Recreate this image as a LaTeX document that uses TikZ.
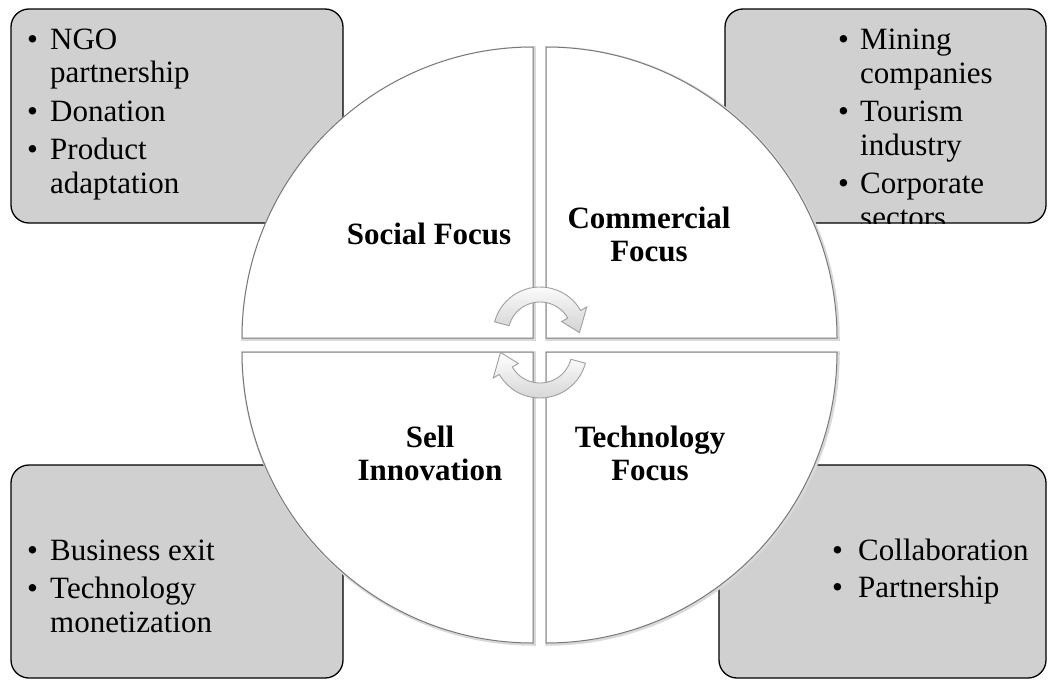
\documentclass[tikz,border=0pt]{standalone}
\usepackage{fontspec}
\setmainfont{Liberation Serif}
\begin{document}
\begin{tikzpicture}[x=1pt,y=1pt,
  infobox/.style={fill=boxgray, draw=black, line width=1.3pt, rounded corners=18pt},
  bul/.style={anchor=base west, inner sep=0pt, font=\fontsize{31}{34}\selectfont},
  item/.style={anchor=base west, inner sep=0pt, font=\fontsize{31}{34}\selectfont},
  lab/.style={anchor=base, inner sep=0pt, font=\fontsize{31}{34}\selectfont\bfseries},
  quad/.style={fill=white, draw=quadline, line width=1pt},
  qshadow/.style={draw=gray!30, line width=3.5pt},
  cyc/.style={top color=white, bottom color=gray!35, draw=gray!75, line width=0.9pt}
]
\definecolor{boxgray}{RGB}{208,208,208}
\definecolor{quadline}{RGB}{120,120,120}
\useasboundingbox (0,0) rectangle (1049,-680);

% ---- boxes ----
\path[infobox, draw=none] (11,-9) rectangle (343,-223);
\path[infobox, draw=none] (725,-9) rectangle (1046,-223);
\path[infobox, draw=none] (11,-465) rectangle (343,-678);
\path[infobox, draw=none] (719,-465) rectangle (1046,-678);

% top-left text
\node[bul] (b1) at (27,-49) {•};
\node[item] (t1) at (50,-49) {NGO};
\node[item] (t2) at (50,-82) {partnership};
\node[bul] (b2) at (27,-121) {•};
\node[item] (t3) at (50,-121) {Donation};
\node[bul] (b3) at (27,-159) {•};
\node[item] (t4) at (50,-159) {Product};
\node[item] (t5) at (50,-193) {adaptation};

% top-right text (clipped by box)
\begin{scope}
\clip[rounded corners=18pt] (725,-9) rectangle (1046,-223);
\node[bul] (b4) at (838,-49) {•};
\node[item] (t6) at (860,-49) {Mining};
\node[item] (t7) at (860,-83) {companies};
\node[bul] (b5) at (838,-121) {•};
\node[item] (t8) at (860,-121) {Tourism};
\node[item] (t9) at (860,-155) {industry};
\node[bul] (b6) at (838,-193) {•};
\node[item] (t10) at (860,-193) {Corporate};
\node[item] (t11) at (860,-227) {sectors};
\end{scope}

% bottom-left text
\node[bul] (b7) at (27,-560) {•};
\node[item] (t12) at (50,-560) {Business exit};
\node[bul] (b8) at (27,-598) {•};
\node[item] (t13) at (50,-598) {Technology};
\node[item] (t14) at (50,-632) {monetization};

% bottom-right text
\node[bul] (b9) at (832,-560) {•};
\node[item] (t15) at (858,-560) {Collaboration};
\node[bul] (b10) at (832,-597) {•};
\node[item] (t16) at (858,-597) {Partnership};

% box borders
\path[infobox, fill=none] (11,-9) rectangle (343,-223);
\path[infobox, fill=none] (725,-9) rectangle (1046,-223);
\path[infobox, fill=none] (11,-465) rectangle (343,-678);
\path[infobox, fill=none] (719,-465) rectangle (1046,-678);

% ---- circle quadrants ----
\draw[qshadow] (534,-339) -- ++(-291,0) arc[start angle=180,end angle=90,radius=291] -- cycle;
\draw[qshadow] (547,-339) -- ++(0,291) arc[start angle=90,end angle=0,radius=291] -- cycle;
\draw[qshadow] (547,-353) -- ++(291,0) arc[start angle=0,end angle=-90,radius=291] -- cycle;
\draw[qshadow] (534,-353) -- ++(0,-291) arc[start angle=270,end angle=180,radius=291] -- cycle;

\draw[quad] (533,-338) -- ++(-291,0) arc[start angle=180,end angle=90,radius=291] -- cycle;
\draw[quad] (546,-338) -- ++(0,291) arc[start angle=90,end angle=0,radius=291] -- cycle;
\draw[quad] (546,-352) -- ++(291,0) arc[start angle=0,end angle=-90,radius=291] -- cycle;
\draw[quad] (533,-352) -- ++(0,-291) arc[start angle=270,end angle=180,radius=291] -- cycle;

% labels
\node[lab] (social) at (429,-244) {Social Focus};
\node[lab] (comm1) at (649,-228) {Commercial};
\node[lab] (comm2) at (649,-261) {Focus};
\node[lab] (sell1) at (430,-447) {Sell};
\node[lab] (sell2) at (430,-480) {Innovation};
\node[lab] (tech1) at (650,-447) {Technology};
\node[lab] (tech2) at (650,-480) {Focus};

% ---- cycle arrows ----
\draw[cyc, shift={(540,-334)}] (165:47) arc[start angle=165,end angle=30,radius=47]
  -- (30:54) -- (2:39.5) -- (30:25) -- (30:32)
  arc[start angle=30,end angle=165,radius=32] -- cycle;
\draw[cyc, shift={(540,-351)}] (345:47) arc[start angle=345,end angle=210,radius=47]
  -- (210:54) -- (182:39.5) -- (210:25) -- (210:32)
  arc[start angle=210,end angle=345,radius=32] -- cycle;
\end{tikzpicture}
\end{document}
